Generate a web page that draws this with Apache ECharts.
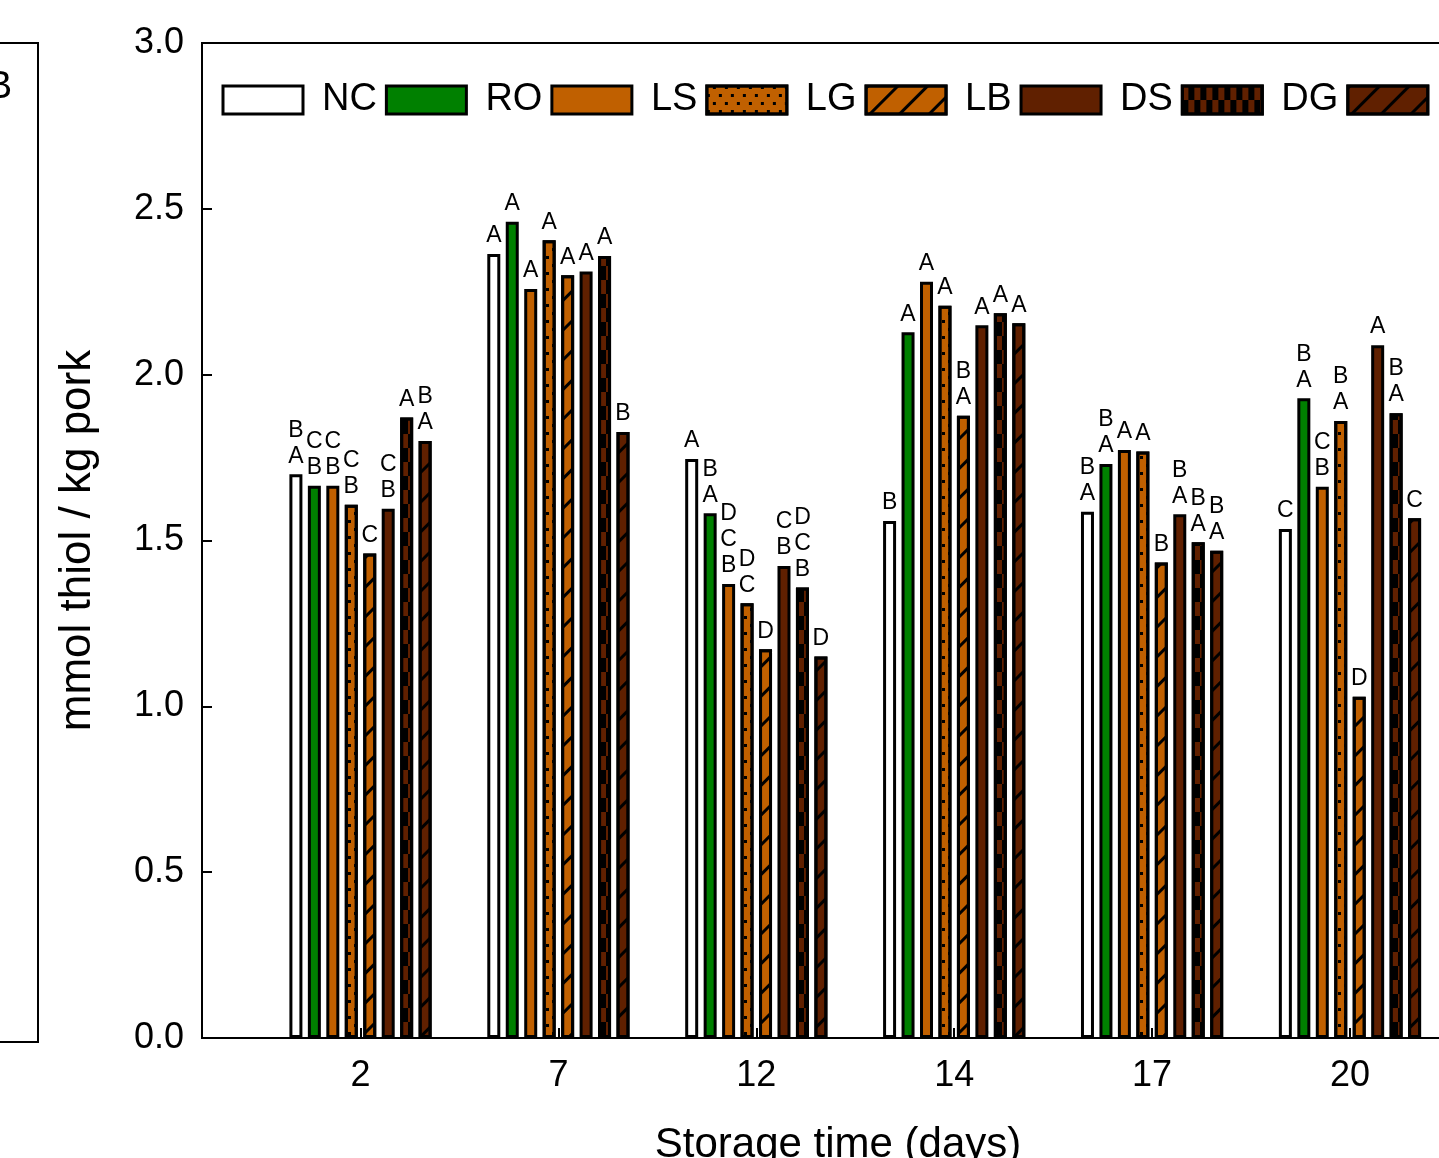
<!DOCTYPE html>
<html><head><meta charset="utf-8">
<script src="https://cdn.jsdelivr.net/npm/echarts@6/dist/echarts.min.js"></script>
<style>html,body{margin:0;padding:0;background:#fff}#c{width:1439px;height:1158px}</style>
</head><body><div id="c"></div><script>
// ---- data ----
const days = ['2', '7', '12', '14', '17', '20'];
const seriesNames = ['NC', 'RO', 'LS', 'LG', 'LB', 'DS', 'DG', 'DB'];
const NC = [1.700, 2.364, 1.746, 1.559, 1.587, 1.535];
const RO = [1.665, 2.461, 1.582, 2.128, 1.731, 1.929];
const LS = [1.665, 2.258, 1.369, 2.280, 1.773, 1.662];
const LG = [1.608, 2.405, 1.311, 2.208, 1.768, 1.860];
const LB = [1.461, 2.300, 1.172, 1.876, 1.434, 1.029];
const DS = [1.596, 2.311, 1.423, 2.149, 1.579, 2.089];
const DG = [1.871, 2.358, 1.358, 2.185, 1.495, 1.884];
const DB = [1.800, 1.827, 1.150, 2.155, 1.469, 1.567];
const lettersNC = ['B\nA', 'A', 'A', 'B', 'B\nA', 'C'];
const lettersRO = ['C\nB', 'A', 'B\nA', 'A', 'B\nA', 'B\nA'];
const lettersLS = ['C\nB', 'A', 'D\nC\nB', 'A', 'A', 'C\nB'];
const lettersLG = ['C\nB', 'A', 'D\nC', 'A', 'A', 'B\nA'];
const lettersLB = ['C', 'A', 'D', 'B\nA', 'B', 'D'];
const lettersDS = ['C\nB', 'A', 'C\nB', 'A', 'B\nA', 'A'];
const lettersDG = ['A', 'A', 'D\nC\nB', 'A', 'B\nA', 'B\nA'];
const lettersDB = ['B\nA', 'B', 'D', 'A', 'B\nA', 'C'];

// ---- styles ----
const ORANGE = '#C06000', GREEN = '#008000', BROWN = '#602000';
const FONT = '"Liberation Sans", Arial, sans-serif';
const hatch = {symbol: 'rect', symbolSize: 1, dashArrayX: [1, 0], dashArrayY: [3, 18], rotation: -Math.PI / 4, color: '#000'};
const dots = {symbol: 'rect', symbolSize: 1, dashArrayX: [[3, 9], [0, 6, 3, 3]], dashArrayY: [3, 5], color: '#000'};
const checker = {symbol: 'rect', symbolSize: 1, dashArrayX: [[6, 6], [0, 6, 6, 0]], dashArrayY: [14, 0], color: '#000'};

const defs = [
  {name: 'NC', values: NC, letters: lettersNC, color: '#FFFFFF', decal: null},
  {name: 'RO', values: RO, letters: lettersRO, color: GREEN, decal: null},
  {name: 'LS', values: LS, letters: lettersLS, color: ORANGE, decal: null},
  {name: 'LG', values: LG, letters: lettersLG, color: ORANGE, decal: dots},
  {name: 'LB', values: LB, letters: lettersLB, color: ORANGE, decal: hatch},
  {name: 'DS', values: DS, letters: lettersDS, color: BROWN, decal: null},
  {name: 'DG', values: DG, letters: lettersDG, color: BROWN, decal: checker},
  {name: 'DB', values: DB, letters: lettersDB, color: BROWN, decal: hatch}
];

const series = defs.map(d => {
  const itemStyle = {color: d.color, borderColor: '#000', borderWidth: 3};
  if (d.decal) itemStyle.decal = d.decal;
  return {
    name: d.name,
    type: 'bar',
    xAxisIndex: 0, yAxisIndex: 0,
    barWidth: 13,
    barGap: '42%',
    data: d.values.map((v, i) => [i, v]),
    itemStyle: itemStyle,
    label: {
      show: true, position: 'top', distance: 5,
      fontSize: 23, lineHeight: 26, fontFamily: FONT, color: '#000',
      formatter: p => d.letters[p.dataIndex]
    },
    emphasis: {disabled: true}
  };
});

const idx = days.map((_, i) => i);
const chart = echarts.init(document.getElementById('c'), null, {renderer: 'canvas'});
chart.setOption({
  animation: false,
  backgroundColor: '#fff',
  grid: [
    {left: 202, top: 43, width: 1315, height: 995, show: true, borderColor: '#000', borderWidth: 2,
      backgroundColor: 'transparent', containLabel: false, outerBoundsMode: 'none'},
    {left: -600, top: 43, width: 638, height: 999, show: true, borderColor: '#000', borderWidth: 2,
      backgroundColor: 'transparent', containLabel: false, outerBoundsMode: 'none'}
  ],
  legend: {
    left: 221.5, top: 81, padding: 0, width: 1600,
    itemWidth: 80, itemHeight: 28, itemGap: 8, icon: 'rect',
    itemStyle: {borderWidth: 3, borderColor: '#000'},
    textStyle: {fontSize: 38, fontFamily: FONT, color: '#000', padding: [0, 0, 0, 14]},
    data: seriesNames,
    selectedMode: false
  },
  xAxis: [
    {
      type: 'value', gridIndex: 0, min: -0.801, max: 5.844,
      name: 'Storage time (days)', nameLocation: 'middle', nameGap: 86,
      nameTextStyle: {fontSize: 42, fontFamily: FONT, color: '#000', padding: [0, 43, 0, 0]},
      axisLine: {show: true, onZero: false, lineStyle: {color: '#000', width: 2}},
      axisTick: {show: true, inside: true, length: 10, customValues: idx, lineStyle: {color: '#000', width: 2}},
      axisLabel: {customValues: idx, fontSize: 36, fontFamily: FONT, color: '#000', margin: 20,
        formatter: v => days[Math.round(v)]},
      splitLine: {show: false}
    },
    {type: 'value', gridIndex: 1, show: false, min: 0, max: 1}
  ],
  yAxis: [
    {
      type: 'value', gridIndex: 0, min: 0, max: 3, interval: 0.5,
      name: 'mmol thiol / kg pork', nameLocation: 'middle', nameGap: 102,
      nameTextStyle: {fontSize: 44, fontFamily: FONT, color: '#000'},
      axisLine: {show: true, onZero: false, lineStyle: {color: '#000', width: 2}},
      axisTick: {show: true, inside: true, length: 10, lineStyle: {color: '#000', width: 2}},
      axisLabel: {fontSize: 36, fontFamily: FONT, color: '#000', margin: 18, padding: [5, 0, 0, 0],
        formatter: v => v.toFixed(1)},
      splitLine: {show: false}
    },
    {type: 'value', gridIndex: 1, show: false, min: 0, max: 1}
  ],
  graphic: [
    {type: 'text', x: 12, y: 88, style: {text: 'DB', fontSize: 38, fontFamily: FONT, fill: '#000', align: 'right', verticalAlign: 'middle'}}
  ],
  series: series
});
</script></body></html>
